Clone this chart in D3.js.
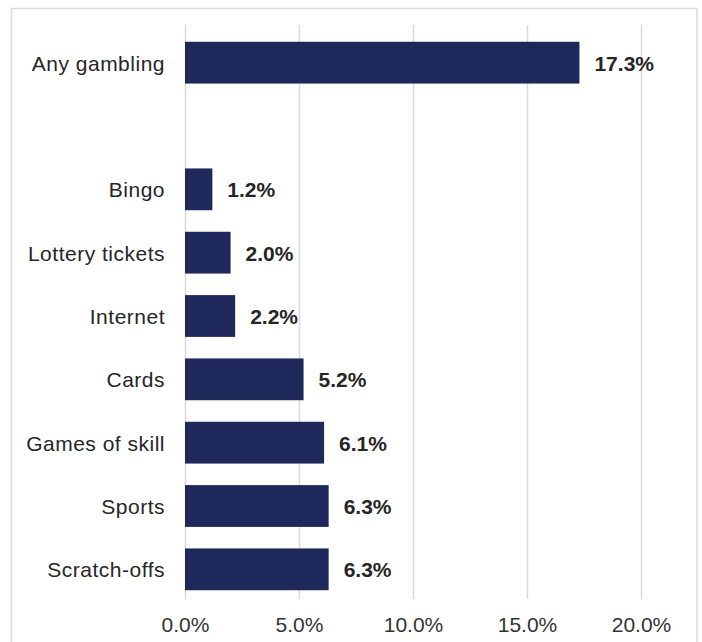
<!DOCTYPE html>
<html>
<head>
<meta charset="utf-8">
<script src="https://cdn.jsdelivr.net/npm/d3@7"></script>
<style>
  html, body { margin: 0; padding: 0; background: #fff; }
  svg { display: block; font-family: "Liberation Sans", Arial, sans-serif; }
</style>
</head>
<body>
<svg id="chart" width="702" height="642"></svg>
<script>
// Share of respondents reporting each type of gambling (percent)
const categories = ["Any gambling", "", "Bingo", "Lottery tickets", "Internet", "Cards", "Games of skill", "Sports", "Scratch-offs"];
const values = [17.3, null, 1.2, 2.0, 2.2, 5.2, 6.1, 6.3, 6.3];
const tickValues = [0, 5, 10, 15, 20];

(function draw() {
  const svg = d3.select("#chart");
  const H = 642;
  const plotLeft = 185, plotRight = 641, plotTop = 31, plotBottom = 601;
  const fontSize = 21;

  // Outer frame (bottom edge falls outside the canvas)
  svg.append("rect")
    .attr("x", 11.5).attr("y", 8.5)
    .attr("width", 697 - 11.5).attr("height", H + 10)
    .attr("fill", "none").attr("stroke", "#d9d9d9").attr("stroke-width", 1.5);

  const x = d3.scaleLinear().domain([0, 20]).range([plotLeft, plotRight]);
  const y = d3.scaleBand()
    .domain(categories.map((c, i) => i))
    .range([plotTop, plotBottom])
    .paddingInner(0.34).paddingOuter(0.17);

  // Vertical gridlines
  svg.append("g")
    .selectAll("line")
    .data(tickValues)
    .join("line")
    .attr("x1", d => Math.round(x(d)) + 0.5).attr("x2", d => Math.round(x(d)) + 0.5)
    .attr("y1", plotTop - 6).attr("y2", plotBottom - 2)
    .attr("stroke", "#d9d9d9").attr("stroke-width", 1.5);

  // X axis labels
  const xAxis = d3.axisBottom(x)
    .tickValues(tickValues)
    .tickFormat(d => d.toFixed(1) + "%")
    .tickSize(0).tickPadding(0);
  const gx = svg.append("g").attr("transform", "translate(0, 632)").call(xAxis);
  gx.select(".domain").remove();
  gx.selectAll("text")
    .attr("font-size", fontSize).attr("fill", "#333333")
    .attr("font-family", "Liberation Sans, Arial, sans-serif")
    .attr("y", 0).attr("dy", 0);

  const rows = categories.map((c, i) => ({ c, v: values[i], i })).filter(d => d.v !== null);

  // Bars
  svg.append("g")
    .selectAll("rect")
    .data(rows)
    .join("rect")
    .attr("x", x(0))
    .attr("y", d => y(d.i))
    .attr("width", d => x(d.v) - x(0))
    .attr("height", y.bandwidth())
    .attr("fill", "#1f285b");

  // Category labels
  svg.append("g")
    .selectAll("text")
    .data(rows)
    .join("text")
    .attr("x", 165)
    .attr("y", d => y(d.i) + y.bandwidth() / 2)
    .attr("dy", "0.38em")
    .attr("text-anchor", "end")
    .attr("font-size", fontSize)
    .attr("letter-spacing", "0.5px")
    .attr("fill", "#262626")
    .text(d => d.c);

  // Value labels
  svg.append("g")
    .selectAll("text")
    .data(rows)
    .join("text")
    .attr("x", d => x(d.v) + 15)
    .attr("y", d => y(d.i) + y.bandwidth() / 2)
    .attr("dy", "0.38em")
    .attr("font-size", fontSize)
    .attr("font-weight", "bold")
    .attr("fill", "#262626")
    .text(d => d.v.toFixed(1) + "%");
})();
</script>
</body>
</html>
